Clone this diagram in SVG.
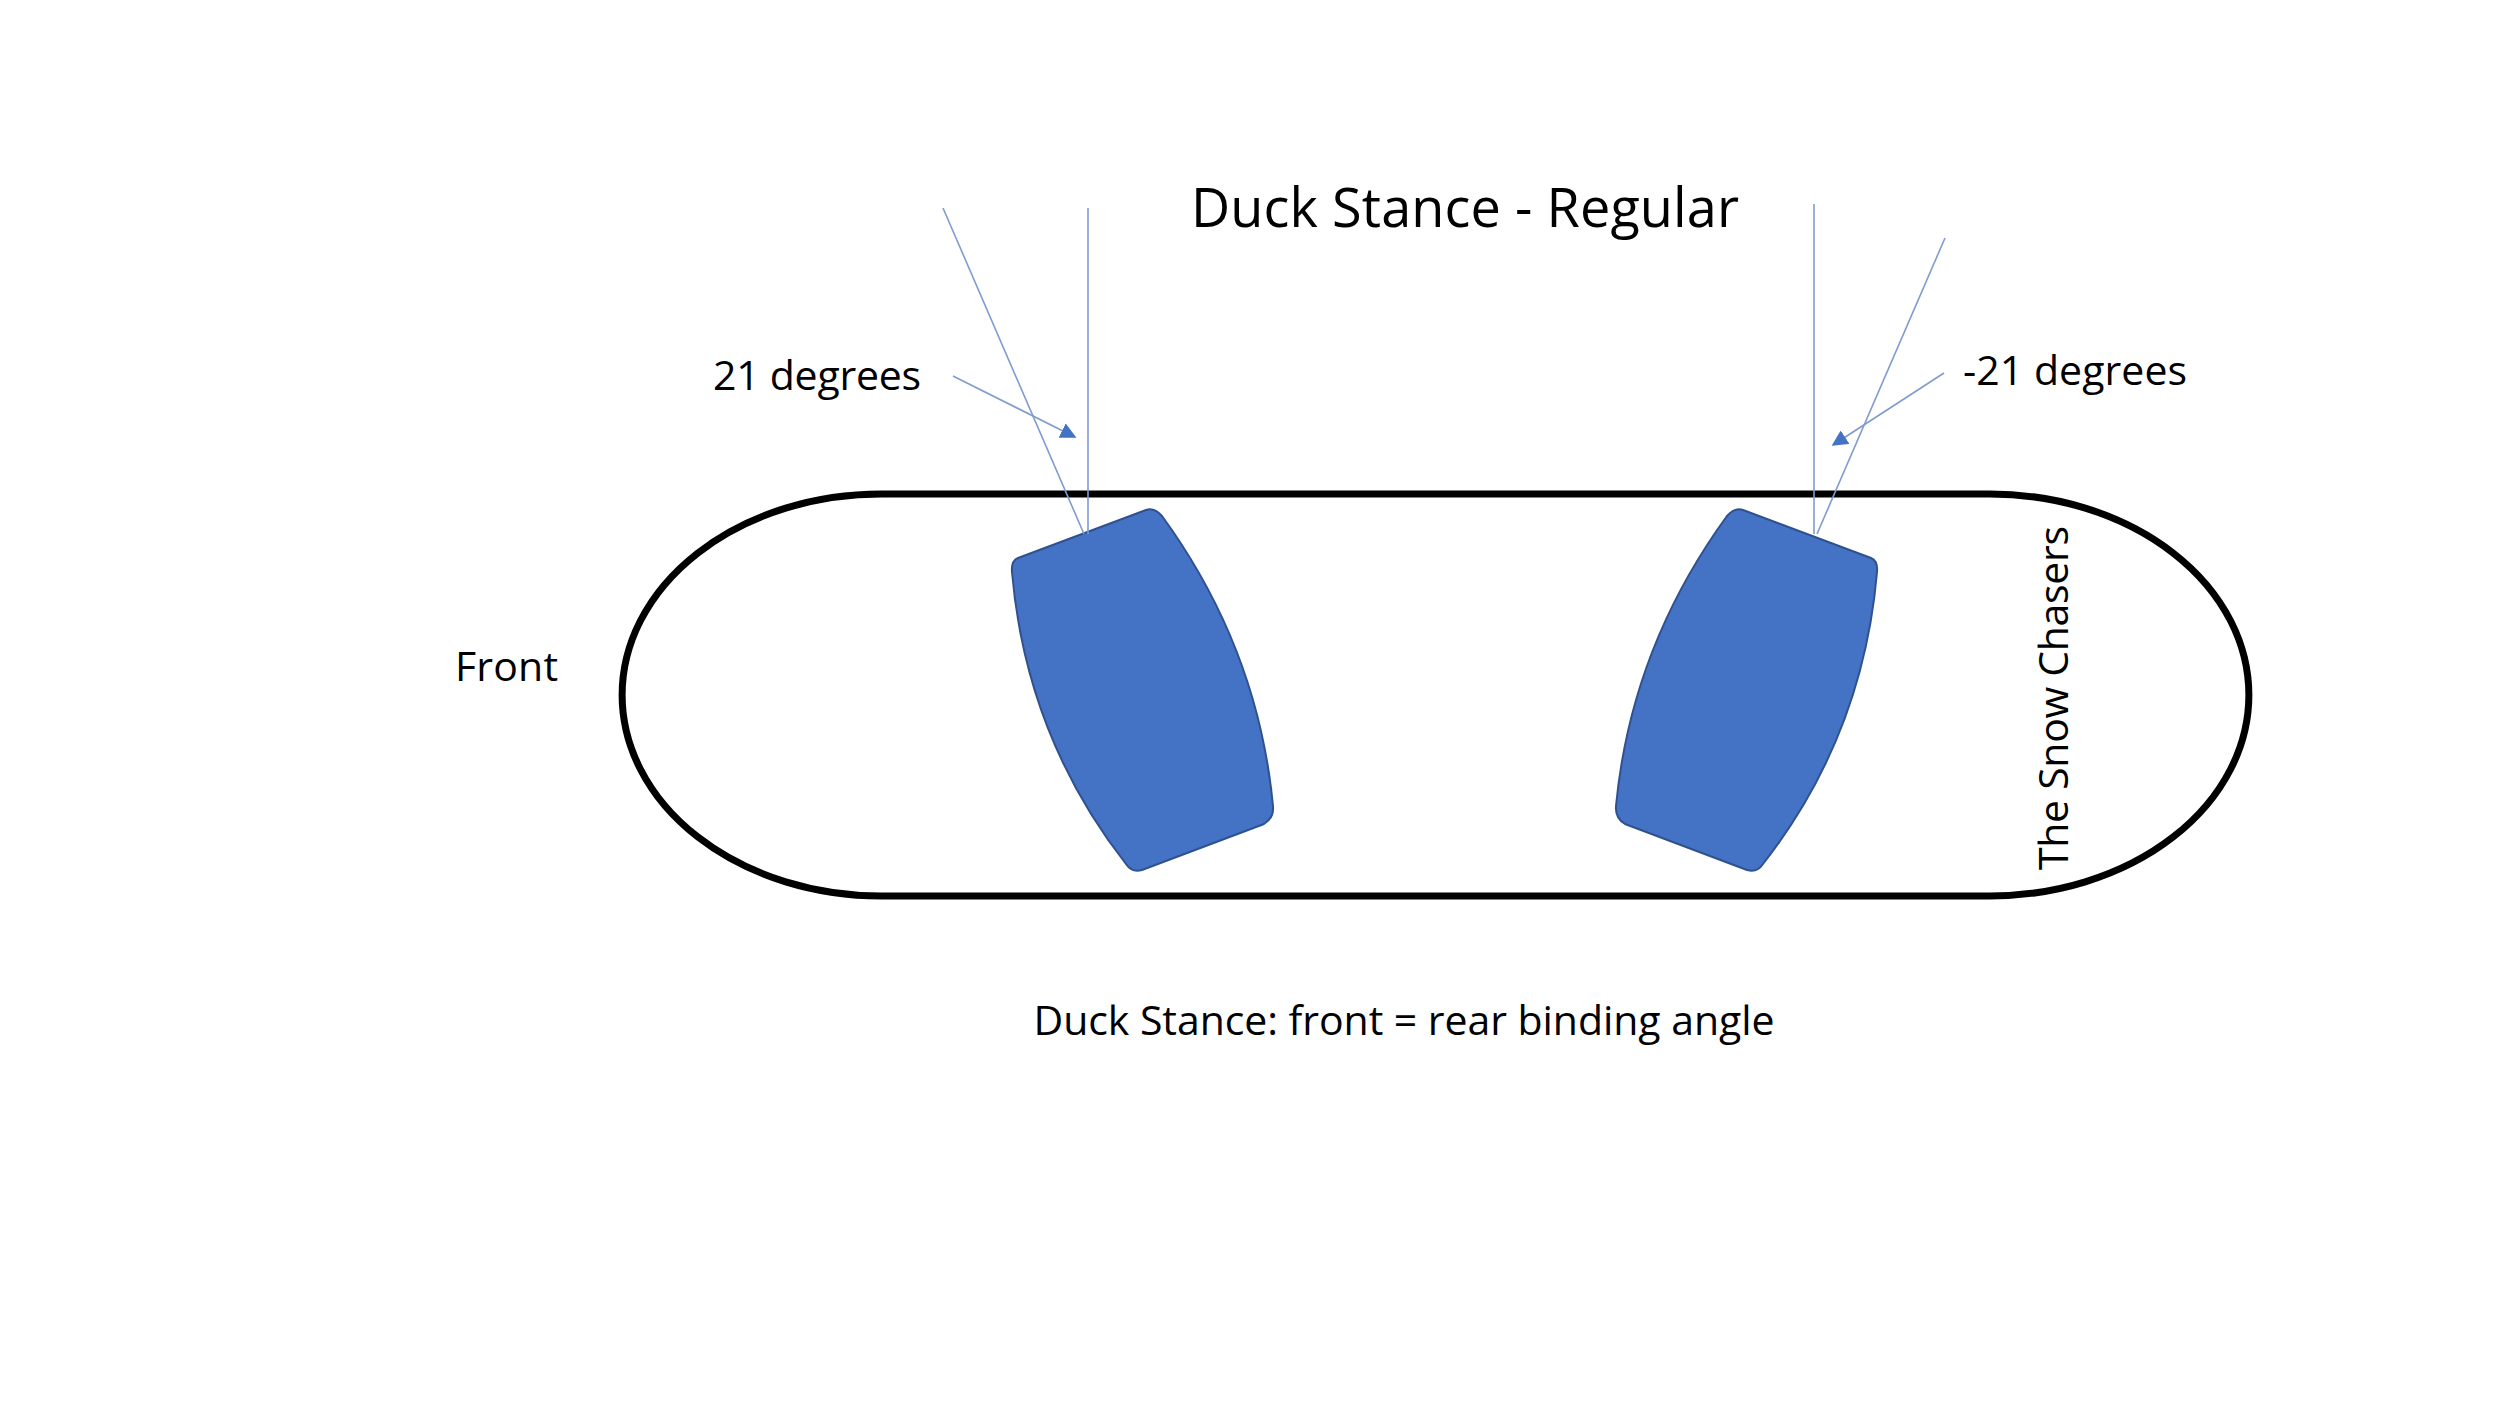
<svg xmlns="http://www.w3.org/2000/svg" width="2500" height="1406" viewBox="0 0 2500 1406">
<style>
text{font-family:"Open Sans","Noto Sans",sans-serif;fill:#000}
.l{font-size:41px}
.ln{stroke:#7F9BD0;stroke-width:1.6;fill:none}
.bd{fill:#4472C4;stroke:#2F528F;stroke-width:2}
</style>
<defs>
<marker id="ah" viewBox="0 0 10 10" refX="9" refY="5" markerWidth="16" markerHeight="16" markerUnits="userSpaceOnUse" orient="auto"><path d="M0,0L10,5L0,10Z" fill="#4472C4"/></marker>
<path id="bind" d="M1022,560 L1150,512 Q1158,509 1166,518 Q1262,650 1277,808 Q1278,820 1268,826 L1146,872 Q1136,875 1130,866 Q1030,738 1016,574 Q1015,563 1022,560 Z"/>
</defs>
<rect width="2500" height="1406" fill="#fff"/>
<g transform="translate(-4,-2)">
<g id="board"><path d="M885,496 H1994 A259,201 0 0 1 1994,898 H885 A259,201 0 0 1 885,496 Z" fill="none" stroke="#000" stroke-width="7"/></g>
<g id="left-binding"><use href="#bind" class="bd"/></g>
<g id="right-binding"><use href="#bind" class="bd" transform="translate(2897,0) scale(-1,1)"/></g>
<g id="connectors">
<line class="ln" x1="1092" y1="210" x2="1092" y2="536"/>
<line class="ln" x1="947" y1="210" x2="1088" y2="536"/>
<line class="ln" x1="1818" y1="206" x2="1818" y2="536"/>
<line class="ln" x1="1949" y1="240" x2="1821" y2="536"/>
<line class="ln" x1="957" y1="378" x2="1079" y2="439" marker-end="url(#ah)"/>
<line class="ln" x1="1948" y1="375" x2="1837" y2="447" marker-end="url(#ah)"/>
</g>
<g id="labels">
<text x="1469" y="229" font-size="54" text-anchor="middle" textLength="548">Duck Stance - Regular</text>
<text class="l" x="717" y="392" textLength="208">21 degrees</text>
<text class="l" x="1967" y="387" textLength="224">-21 degrees</text>
<text class="l" x="459" y="683" textLength="103">Front</text>
<text class="l" x="1408" y="1037" text-anchor="middle" textLength="741">Duck Stance: front = rear binding angle</text>
<text class="l" transform="translate(2072,700) rotate(-90)" text-anchor="middle" textLength="344">The Snow Chasers</text>
</g>
</g>
</svg>
